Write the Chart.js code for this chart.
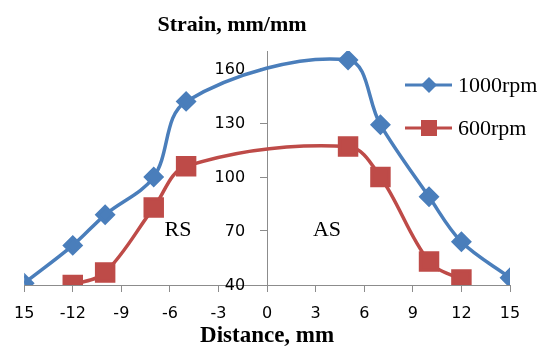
<!DOCTYPE html>
<html>
<head>
<meta charset="utf-8">
<script src="https://cdn.jsdelivr.net/npm/chart.js@4/dist/chart.umd.min.js"></script>
<style>
  html, body { margin: 0; padding: 0; background: #fff; }
  #wrap { width: 544px; height: 348px; }
</style>
</head>
<body>
<div id="wrap"><canvas id="strainChart" width="544" height="348"></canvas></div>
<script>
// distance (mm) and strain values
const dist1000 = [-15, -12, -10, -7, -5, 5, 7, 10, 12, 15];
const strain1000 = [41, 62, 79, 100, 142, 165, 129, 89, 64, 44];
const dist600 = [-12, -10, -7, -5, 5, 7, 10, 12];
const strain600 = [40, 47, 83, 106, 117, 100, 53, 43];
const seriesNames = ['1000rpm', '600rpm'];
const xTicks = [-15, -12, -9, -6, -3, 0, 3, 6, 9, 12, 15];
const yTicks = [40, 70, 100, 130, 160];
const sideLabels = [{ text: 'RS', x: -5.5, y: 70.5 }, { text: 'AS', x: 3.7, y: 70.5 }];

const blue = '#4a7ebb';
const red = '#be4b48';
const serif = '"Liberation Serif", "Times New Roman", serif';
const sans = '"DejaVu Sans", sans-serif';

function toPoints(xs, ys) {
  return xs.map((x, i) => ({ x: x, y: ys[i] }));
}

// y labels, title, RS/AS and legend drawn on top
const extras = {
  id: 'extras',
  afterDraw(chart) {
    const c = chart.ctx;
    const sx = chart.scales.x, sy = chart.scales.y;
    const x0 = sx.getPixelForValue(0);
    c.save();
    c.fillStyle = '#000';
    c.textBaseline = 'middle';

    // y tick labels, left of the centred axis
    c.font = '16px ' + sans;
    c.textAlign = 'right';
    sy.ticks.forEach(t => {
      c.fillText(String(t.value), x0 - 22, sy.getPixelForValue(t.value) + 1);
    });

    c.font = 'bold 22px ' + serif;
    c.textAlign = 'center';
    c.fillText('Strain, mm/mm', x0 - 35, 25);

    c.font = '22px ' + serif;
    sideLabels.forEach(l => {
      c.fillText(l.text, sx.getPixelForValue(l.x), sy.getPixelForValue(l.y));
    });

    c.textAlign = 'left';
    chart.data.datasets.forEach((ds, i) => {
      const y = 85 + i * 43;
      c.strokeStyle = ds.borderColor;
      c.lineWidth = 3;
      c.beginPath();
      c.moveTo(405, y);
      c.lineTo(452, y);
      c.stroke();
      c.fillStyle = ds.backgroundColor;
      c.beginPath();
      if (ds.pointStyle === 'rectRot') {
        c.moveTo(429, y - 8); c.lineTo(437, y); c.lineTo(429, y + 8); c.lineTo(421, y);
      } else {
        c.rect(421, y - 8, 16, 16);
      }
      c.fill();
      c.fillStyle = '#000';
      c.font = '22px ' + serif;
      c.fillText(ds.label, 458, y + 1);
    });
    c.restore();
  }
};

new Chart(document.getElementById('strainChart'), {
  type: 'line',
  data: {
    datasets: [{
      label: seriesNames[0],
      data: toPoints(dist1000, strain1000),
      borderColor: blue,
      backgroundColor: blue,
      borderWidth: 3.5,
      pointStyle: 'rectRot',
      pointRadius: 8,
      pointHoverRadius: 8,
      tension: 0.35
    }, {
      label: seriesNames[1],
      data: toPoints(dist600, strain600),
      borderColor: red,
      backgroundColor: red,
      borderWidth: 3.5,
      pointStyle: 'rect',
      pointRadius: 12,
      pointHoverRadius: 12,
      tension: 0.35
    }]
  },
  options: {
    responsive: false,
    animation: false,
    layout: { padding: { left: 20, right: 34, top: 51, bottom: 0 } },
    plugins: {
      legend: { display: false },
      tooltip: { enabled: false }
    },
    scales: {
      x: {
        type: 'linear',
        min: -15,
        max: 15,
        afterBuildTicks: s => { s.ticks = xTicks.map(v => ({ value: v })); },
        grid: { drawOnChartArea: false, tickLength: 7, color: '#8c8c8c' },
        border: { color: '#8c8c8c' },
        ticks: {
          font: { family: sans, size: 16, lineHeight: 1 },
          color: '#000',
          padding: 14,
          maxRotation: 0,
          callback: v => (v === -15 ? '15' : String(v))
        },
        title: {
          display: true,
          text: 'Distance, mm',
          font: { family: serif, size: 23, weight: 'bold', lineHeight: 1 },
          color: '#000',
          padding: { top: -11, bottom: 0 }
        }
      },
      y: {
        type: 'linear',
        position: { x: 0 },
        min: 40,
        max: 170,
        afterBuildTicks: s => { s.ticks = yTicks.map(v => ({ value: v })); },
        grid: { drawOnChartArea: false, tickLength: 7, color: '#8c8c8c' },
        border: { color: '#8c8c8c' },
        ticks: { display: false }
      }
    }
  },
  plugins: [extras]
});
</script>
</body>
</html>
